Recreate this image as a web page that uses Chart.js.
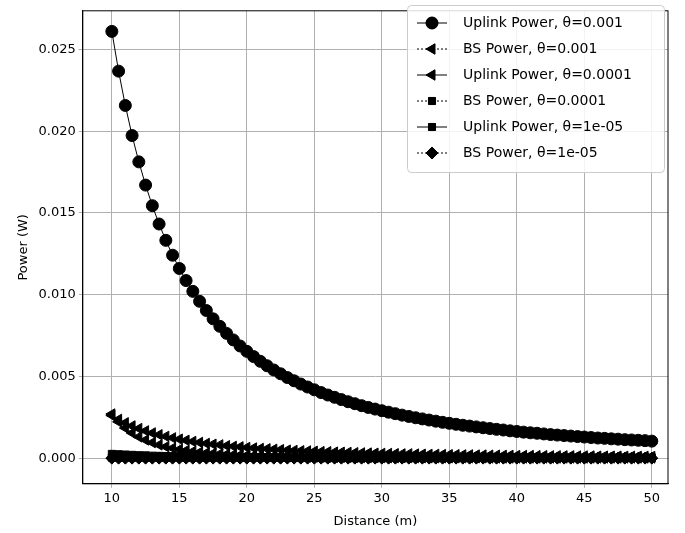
<!DOCTYPE html><html><head><script src="https://cdn.jsdelivr.net/npm/chart.js@4"></script>
<style>body{margin:0;background:#fff}#w{width:685px;height:533px}</style></head><body><div id="w"><canvas id="c"></canvas></div>
<script>
const distance=[10,10.5,11,11.5,12,12.5,13,13.5,14,14.5,15,15.5,16,16.5,17,17.5,18,18.5,19,19.5,20,20.5,21,21.5,22,22.5,23,23.5,24,24.5,25,25.5,26,26.5,27,27.5,28,28.5,29,29.5,30,30.5,31,31.5,32,32.5,33,33.5,34,34.5,35,35.5,36,36.5,37,37.5,38,38.5,39,39.5,40,40.5,41,41.5,42,42.5,43,43.5,44,44.5,45,45.5,46,46.5,47,47.5,48,48.5,49,49.5,50];
const uplink1=[.0261,.02367,.02157,.01973,.01812,.0167,.01544,.01432,.01332,.01241,.0116,.01086,.0102,.00959,.00903,.00852,.00806,.00763,.00723,.00686,.00653,.00621,.00592,.00565,.00539,.00516,.00493,.00473,.00453,.00435,.00418,.00401,.00386,.00372,.00358,.00345,.00333,.00321,.0031,.003,.0029,.00281,.00272,.00263,.00255,.00247,.0024,.00233,.00226,.00219,.00213,.00207,.00201,.00196,.00191,.00186,.00181,.00176,.00172,.00167,.00163,.00159,.00155,.00152,.00148,.00144,.00141,.00138,.00135,.00132,.00129,.00126,.00123,.00121,.00118,.00116,.00113,.00111,.00109,.00107,.00104];
const bs1=[.0027,.00222,.00184,.00154,.0013,.00111,.00095,.00081,.0007,.00061,.00053,.00047,.00041,.00036,.00032,.00029,.00026,.00023,.00021,.00019,.00017,.00015,.00014,.00013,.00012,.00011,.0001,.00009,.00008,.00007,.00007,.00006,.00006,.00005,.00005,.00005,.00004,.00004,.00004,.00004,.00003,.00003,.00003,.00003,.00003,.00003,.00002,.00002,.00002,.00002,.00002,.00002,.00002,.00002,.00002,.00002,.00001,.00001,.00001,.00001,.00001,.00001,.00001,.00001,.00001,.00001,.00001,.00001,.00001,.00001,.00001,.00001,.00001,.00001,.00001,.00001,.00001,.00001,.00001,.00001,.00001];
const uplink2=[.00261,.00237,.00216,.00197,.00181,.00167,.00154,.00143,.00133,.00124,.00116,.00109,.00102,.00096,.0009,.00085,.00081,.00076,.00072,.00069,.00065,.00062,.00059,.00057,.00054,.00052,.00049,.00047,.00045,.00044,.00042,.0004,.00039,.00037,.00036,.00035,.00033,.00032,.00031,.0003,.00029,.00028,.00027,.00026,.00026,.00025,.00024,.00023,.00023,.00022,.00021,.00021,.0002,.0002,.00019,.00019,.00018,.00018,.00017,.00017,.00016,.00016,.00016,.00015,.00015,.00014,.00014,.00014,.00014,.00013,.00013,.00013,.00012,.00012,.00012,.00012,.00011,.00011,.00011,.00011,.0001];
const bs2=distance.map(()=>0.00003);
const uplink3=[.00026,.00024,.00022,.0002,.00018,.00017,.00015,.00014,.00013,.00012,.00012,.00011,.0001,.0001,.00009,.00009,.00008,.00008,.00007,.00007,.00007,.00006,.00006,.00006,.00005,.00005,.00005,.00005,.00005,.00004,.00004,.00004,.00004,.00004,.00004,.00003,.00003,.00003,.00003,.00003,.00003,.00003,.00003,.00003,.00003,.00002,.00002,.00002,.00002,.00002,.00002,.00002,.00002,.00002,.00002,.00002,.00002,.00002,.00002,.00002,.00002,.00002,.00002,.00002,.00001,.00001,.00001,.00001,.00001,.00001,.00001,.00001,.00001,.00001,.00001,.00001,.00001,.00001,.00001,.00001,.00001];
const bs3=distance.map(()=>0);
const xTicks=[10,15,20,25,30,35,40,45,50];
const yTicks=[0,0.005,0.01,0.015,0.02,0.025];
const labels=["Uplink Power, θ=0.001","BS Power, θ=0.001","Uplink Power, θ=0.0001","BS Power, θ=0.0001","Uplink Power, θ=1e-05","BS Power, θ=1e-05"];
const series=[uplink1,bs1,uplink2,bs2,uplink3,bs3];
const styles=[['circle',0,[]],['triangle',-90,[2,2]],['triangle',-90,[]],['rect',0,[2,2]],['rect',0,[]],['rectRot',0,[2,2]]];
const rad=s=>s==='rect'?5:6;
const datasets=series.map((s,i)=>({label:labels[i],data:s.map((v,j)=>({x:distance[j],y:v})),borderColor:'#000',backgroundColor:'#000',borderWidth:1,borderDash:styles[i][2],pointStyle:styles[i][0],rotation:styles[i][1],pointRadius:rad(styles[i][0]),pointHoverRadius:5,tension:0}));
const framePlugin={id:'fr',afterDatasetsDraw(ch){const a=ch.chartArea,c=ch.ctx;c.save();c.strokeStyle='#000';c.lineWidth=1;c.strokeRect(a.left,a.top,a.right-a.left,a.bottom-a.top);c.restore();}};
const legendPlugin={id:'lg',afterDraw(ch){const c=ch.ctx;c.save();const x0=407,y0=5,w=257,h=167;c.fillStyle='rgba(255,255,255,0.85)';c.strokeStyle='#ccc';c.lineWidth=1;c.beginPath();c.roundRect(x0+.5,y0+.5,w,h,4);c.fill();c.stroke();
c.font='14px "DejaVu Sans"';c.textBaseline='middle';c.fillStyle='#000';
labels.forEach((l,i)=>{const y=y0+18+i*26;c.strokeStyle='#000';c.lineWidth=1;c.setLineDash(styles[i][2]);c.beginPath();c.moveTo(x0+10,y);c.lineTo(x0+40,y);c.stroke();c.setLineDash([]);
Chart.helpers.drawPoint(c,{pointStyle:styles[i][0],rotation:styles[i][1],radius:rad(styles[i][0]),borderWidth:1},x0+25,y);c.fillStyle='#000';c.fill();
c.fillText(l,x0+56,y);});c.restore();}};
new Chart(document.getElementById('c'),{type:'line',data:{datasets},plugins:[framePlugin,legendPlugin],options:{responsive:true,maintainAspectRatio:false,animation:false,
layout:{padding:{left:12,right:17,top:5,bottom:0}},
plugins:{legend:{display:false},tooltip:{enabled:false}},
scales:{x:{type:'linear',min:7.85,max:51.2,afterBuildTicks:a=>{a.ticks=xTicks.map(v=>({value:v}))},grid:{color:'#b0b0b0',tickLength:4,drawTicks:true},border:{color:'#000'},ticks:{color:'#000',font:{family:'DejaVu Sans',size:13}},title:{display:true,text:'Distance (m)',color:'#000',font:{family:'DejaVu Sans',size:13}}},
y:{min:-0.00157,max:0.02736,afterBuildTicks:a=>{a.ticks=yTicks.map(v=>({value:v}))},grid:{color:'#b0b0b0',tickLength:4},border:{color:'#000'},ticks:{color:'#000',font:{family:'DejaVu Sans',size:13},callback:v=>v.toFixed(3)},title:{display:true,text:'Power (W)',color:'#000',font:{family:'DejaVu Sans',size:13}}}}}});
</script></body></html>
